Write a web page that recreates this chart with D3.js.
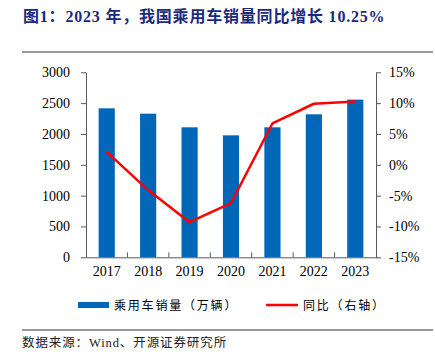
<!DOCTYPE html>
<html><head><meta charset="utf-8">
<script src="https://cdn.jsdelivr.net/npm/d3@7"></script>
<style>body{margin:0;background:#fff}svg{display:block}</style>
</head><body><svg id="c" width="435" height="358"></svg>
<script>
const years = ["2017","2018","2019","2020","2021","2022","2023"];
const sales = [2416, 2329, 2108, 1978, 2108, 2319, 2557];
const yoy = [2.1, -4.1, -9.3, -6.2, 6.7, 9.9, 10.25];
const leftTicks = [0,500,1000,1500,2000,2500,3000];
const rightTicks = [-15,-10,-5,0,5,10,15];
const title = "图1：2023 年，我国乘用车销量同比增长 10.25%";
const legendLabels = ["乘用车销量（万辆）","同比（右轴）"];
const source = "数据来源：Wind、开源证券研究所";

const svg = d3.select("#c");
const serif = "'Liberation Serif','Times New Roman','Noto Sans CJK SC',serif";
const L = 86, R = 376, T = 72.3, B = 257.3;
const x = d3.scaleBand().domain(years).range([L, R]).paddingInner(0.61).paddingOuter(0.305);
const xb = d3.scaleBand().domain(years).range([L, R]);
const yL = d3.scaleLinear().domain([0,3000]).range([B, T]);
const yR = d3.scaleLinear().domain([-15,15]).range([B, T]);

svg.append("text").attr("x",23).attr("y",22).attr("fill","#1b2a7c")
  .attr("font-family",serif).attr("font-weight","bold").attr("font-size",16).attr("letter-spacing",0.8).text(title);
svg.append("line").attr("x1",22).attr("x2",433).attr("y1",52).attr("y2",52).attr("stroke","#333").attr("stroke-width",1);

svg.append("g").selectAll("rect").data(years).join("rect")
  .attr("x",d=>x(d)).attr("width",x.bandwidth())
  .attr("y",(d,i)=>yL(sales[i])).attr("height",(d,i)=>B-yL(sales[i]))
  .attr("fill","#0066b8");

const line = d3.line().x((d,i)=>xb(years[i])+xb.bandwidth()/2).y(d=>yR(d));
svg.append("path").datum(yoy).attr("d",line).attr("fill","none").attr("stroke","#ff0000").attr("stroke-width",2.5).attr("stroke-linejoin","round");

function styleAxis(g){
  g.selectAll("path,line").attr("stroke","#595959");
  g.selectAll("text").attr("font-family",serif).attr("font-size",14).attr("fill","#000");
}
svg.append("g").attr("transform",`translate(${L},0)`)
  .call(d3.axisLeft(yL).tickValues(leftTicks).tickSize(5).tickSizeOuter(0).tickPadding(11).tickFormat(d3.format("d")))
  .call(styleAxis);
svg.append("g").attr("transform",`translate(${R},0)`)
  .call(d3.axisRight(yR).tickValues(rightTicks).tickSize(5).tickSizeOuter(0).tickPadding(8).tickFormat(d=>d+"%"))
  .call(styleAxis);
const gx = svg.append("g").attr("transform",`translate(0,${B})`)
  .call(d3.axisBottom(xb).tickSize(0).tickSizeOuter(0).tickPadding(9)).call(styleAxis);
gx.selectAll("line.bnd").data(years.slice(1)).join("line").attr("class","bnd")
  .attr("x1",d=>xb(d)).attr("x2",d=>xb(d)).attr("y1",0).attr("y2",-5).attr("stroke","#595959");

const lg = svg.append("g");
lg.append("rect").attr("x",78).attr("y",302).attr("width",31).attr("height",6).attr("fill","#0066b8");
lg.append("text").attr("x",114).attr("y",309.5).attr("font-family","'Noto Sans CJK SC',sans-serif").attr("font-size",12).attr("letter-spacing",1.8).text(legendLabels[0]);
lg.append("line").attr("x1",266).attr("x2",298).attr("y1",305).attr("y2",305).attr("stroke","#ff0000").attr("stroke-width",2.5);
lg.append("text").attr("x",303).attr("y",309.5).attr("font-family","'Noto Sans CJK SC',sans-serif").attr("font-size",12).attr("letter-spacing",1.8).text(legendLabels[1]);

svg.append("line").attr("x1",22).attr("x2",433).attr("y1",330).attr("y2",330).attr("stroke","#333").attr("stroke-width",1);
svg.append("text").attr("x",22).attr("y",347).attr("font-family","'Liberation Serif','Noto Sans CJK SC',serif").attr("font-size",12.5).attr("letter-spacing",0.9).attr("fill","#222").text(source);
</script></body></html>
